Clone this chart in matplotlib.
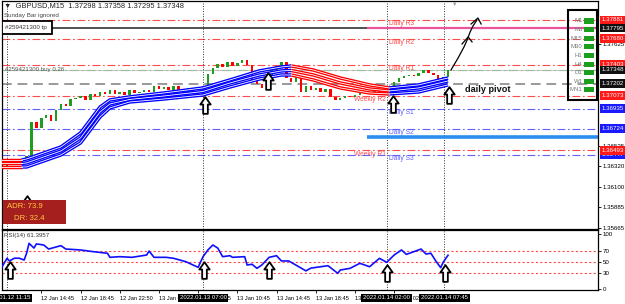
import numpy as np
import matplotlib
matplotlib.use("Agg")
import matplotlib.pyplot as plt
from matplotlib.patches import Rectangle
from matplotlib.path import Path
from matplotlib.transforms import blended_transform_factory as blend

plt.rcParams["font.family"] = ["Liberation Sans", "DejaVu Sans"]

# ---------------- data ----------------
# x axis is the M15 bar number, bar 0 = 2022.01.12 11:15
bar_idx = np.arange(-2, 182, 2)
closes = np.array([
    1.36326, 1.36358, 1.36336, 1.36368, 1.36389, 1.36432, 1.36794, 1.36730, 1.36837, 1.36869,
    1.36805, 1.36922, 1.36986, 1.36965, 1.37039, 1.37050, 1.37071, 1.37029, 1.37093, 1.37071,
    1.37114, 1.37093, 1.37135, 1.37093, 1.37114, 1.37082, 1.37135, 1.37103, 1.37114, 1.37135,
    1.37114, 1.37178, 1.37146, 1.37167, 1.37135, 1.37178, 1.37135, 1.37093, 1.37157, 1.37114,
    1.37082, 1.37178, 1.37306, 1.37370, 1.37412, 1.37380, 1.37434, 1.37391, 1.37423, 1.37455,
    1.37402, 1.37242, 1.37199, 1.37157, 1.37284, 1.37348, 1.37391, 1.37434, 1.37263, 1.37221,
    1.37284, 1.37114, 1.37178, 1.37135, 1.37157, 1.37114, 1.37146, 1.37061, 1.37029, 1.37050,
    1.37071, 1.37061, 1.37082, 1.37103, 1.37093, 1.37114, 1.37125, 1.37103, 1.37135, 1.37178,
    1.37221, 1.37263, 1.37284, 1.37295, 1.37284, 1.37316, 1.37348, 1.37316, 1.37295, 1.37210,
    1.37274, 1.37348,
])

# triple moving-average band
ma_idx = np.array([-3, 6, 8, 22, 30, 38, 42, 50, 64, 80, 91, 103, 112, 116, 125, 136, 148, 156, 168, 180])
ma_top = np.array([1.36389, 1.36389, 1.36400, 1.36528, 1.36677, 1.36954, 1.37029, 1.37061, 1.37103, 1.37157,
                   1.37242, 1.37338, 1.37380, 1.37391, 1.37348, 1.37263, 1.37189, 1.37157, 1.37189, 1.37263])
ma_mid = np.array([1.36352, 1.36352, 1.36358, 1.36485, 1.36624, 1.36901, 1.36986, 1.37034, 1.37071, 1.37119,
                   1.37210, 1.37295, 1.37338, 1.37343, 1.37295, 1.37210, 1.37146, 1.37125, 1.37157, 1.37231])
ma_low = np.array([1.36315, 1.36315, 1.36315, 1.36443, 1.36571, 1.36848, 1.36944, 1.37007, 1.37039, 1.37082,
                   1.37167, 1.37252, 1.37295, 1.37295, 1.37242, 1.37157, 1.37103, 1.37093, 1.37114, 1.37189])
trend_breaks = [6, 116, 156]          # red -> blue -> red -> blue

# pivot levels
level_prices = [1.37881, 1.37680, 1.37403, 1.37202, 1.37073, 1.36935, 1.36724, 1.36493, 1.36447]
level_names = ["Daily R3", "Daily R2", "Daily R1", "Daily Pivot", "Weekly R2",
               "Daily S1", "Daily S2", "Weekly R1", "Daily S3"]
tp_price = 1.37795
buy_price = 1.37348
zone_price = 1.36635
zone_start = 147

# right price scale
plain_ticks = [1.37625, 1.36535, 1.36320, 1.36100, 1.35885, 1.35665]
box_prices = [1.37881, 1.37795, 1.37680, 1.37403, 1.37348, 1.37202, 1.37073, 1.36935, 1.36724, 1.36447, 1.36493]
box_kinds = ["red", "black", "red", "red", "black", "black", "red", "blue", "blue", "blue", "red"]

# RSI(14)
rsi_idx = [-2, 0, 1, 3, 5, 7, 8, 9, 11, 12, 15, 17, 22, 24, 30, 35, 41, 42, 46, 51, 57, 58, 60, 65, 68,
           73, 78, 80, 82, 84, 86, 88, 91, 92, 97, 98, 100, 102, 104, 107, 110, 112, 115, 122, 124,
           128, 131, 135, 136, 140, 144, 148, 152, 155, 158, 161, 163, 166, 169, 171, 173, 175, 177, 178, 180]
rsi_val = [40.5, 55.8, 51, 56, 56, 52.7, 65, 83, 74.5, 82, 80, 72.7, 78.8, 72.7, 71, 68, 65, 57.6, 58.8,
           57.6, 61.8, 69, 57.6, 57.6, 55.8, 49.7, 39.4, 58.8, 71, 80, 74.5, 58.8, 60.6, 57.6, 58.8,
           43.6, 45, 37.6, 43.6, 57.6, 60.6, 51, 51, 33, 38, 40.5, 42.4, 28.5, 34.5, 37.6, 46.7, 40.5,
           55.8, 48.5, 61.8, 71, 63, 67.8, 72.7, 63.6, 65, 51, 38.8, 48.5, 61.4]
rsi_levels = [70, 50, 30]

# time scale
time_ticks = [14, 30, 46, 62, 78, 94, 110, 126, 142, 158]
time_labels = ["12 Jan 14:45", "12 Jan 18:45", "12 Jan 22:50", "13 Jan 02:45", "13 Jan 06:45",
               "13 Jan 10:45", "13 Jan 14:45", "13 Jan 18:45", "13 Jan 22:45", "14 Jan 02:45"]
cursor_idx = [0, 80, 155, 178.5]
cursor_labels = ["2022.01.12 11:15", "2022.01.13 07:00", "2022.01.14 02:00", "2022.01.14 07:45"]

# up-arrow signals
arrow_main_idx = [8.2, 80.8, 106.5, 157.5, 180.4]
arrow_main_price = [1.35921, 1.36975, 1.37231, 1.36986, 1.37082]
arrow_rsi_idx = [1.2, 80.4, 107, 155, 178.8]
arrow_rsi_val = [34.5, 34.5, 34.5, 29, 29]

# hand drawn projection
sketch_idx = [181.2, 184.1, 186.5, 187.8, 189.0, 190.2, 191.8]
sketch_price = [1.37348, 1.37476, 1.37593, 1.37668, 1.37753, 1.37817, 1.37881]
head1_idx = [185.7, 188.2, 189.8]
head1_price = [1.37625, 1.37700, 1.37647]
head2_idx = [189.4, 192.2, 193.5]
head2_price = [1.37838, 1.37902, 1.37838]

timeframes = ["M1", "M5", "M15", "M30", "H1", "H4", "D1", "W1", "MN1"]

# ---------------- styling ----------------
RED = "#ff0000"
BLUE = "#0000ff"
LRED = "#ff4a4a"
LBLUE = "#6060ff"
GREEN = "#1e9e1e"
FS = 4.4
W, H = 625, 304

fig = plt.figure(figsize=(W / 100, H / 100), dpi=100, facecolor="white")
ax = fig.add_axes([2 / W, 1 - 229 / H, 596 / W, 228 / H])
ax_rsi = fig.add_axes([2 / W, 1 - 290 / H, 596 / W, 60 / H])
xlim = (-2.04, 241.2)


def mx(px):
    return (px - 2) / 596


def my(py):
    return (229 - py) / 228


dashdot = (0, (7, 2.5, 1.5, 2.5))

# level lines
for p, name in zip(level_prices, level_names):
    if "Pivot" in name:
        ax.axhline(p, color="#9a9a9a", lw=1.4, ls=(0, (5, 3)), zorder=1)
        col = "#9a9a9a"
    elif "R" in name.split()[-1]:
        ax.axhline(p, color=LRED, lw=0.8, ls=dashdot, zorder=1)
        col = LRED
    else:
        ax.axhline(p, color=LBLUE, lw=0.8, ls=dashdot, zorder=1)
        col = LBLUE
    if name.startswith("Weekly"):
        ax.text(154.5, p - 0.00003, name, color=col, fontsize=4.8, ha="right", va="top", zorder=1)
    else:
        ax.text(155.8, p - 0.00004, name, color=col, fontsize=4.8, ha="left", va="top", zorder=1)

ax.axhline(tp_price, color="#222222", lw=1.1, zorder=1)
ax.hlines(tp_price, zone_start, xlim[1], color="#e8559b", lw=1.6, zorder=1.5)
ax.axhline(buy_price, color="#8cc88c", lw=0.9, ls=dashdot, zorder=1)
ax.axhline(buy_price, color="#b0b0b0", lw=0.5, zorder=1)
ax.hlines(zone_price, zone_start, xlim[1], color="#2a8ef0", lw=2.6, zorder=1.5)

# cursor lines
for xi in cursor_idx:
    for a in (ax, ax_rsi):
        a.axvline(xi, color="#333333", lw=0.7, ls=(0, (1, 1.6)), zorder=1)

# candles
opens = np.r_[closes[0], closes[:-1]]
up = closes >= opens
ax.bar(bar_idx, np.maximum(np.abs(closes - opens), 0.00008), bottom=np.minimum(opens, closes),
       width=1.0, color=np.where(up, GREEN, RED), lw=0, zorder=2)

# MA band
edges = [ma_idx[0]] + trend_breaks + [ma_idx[-1]]
for k in range(len(edges) - 1):
    c = RED if k % 2 == 0 else BLUE
    m = (ma_idx >= edges[k]) & (ma_idx <= edges[k + 1])
    for line in (ma_top, ma_mid, ma_low):
        ax.plot(ma_idx[m], line[m], color=c, lw=2.5, solid_capstyle="butt", zorder=3)
        ax.plot(ma_idx[m], line[m], color="white", lw=0.6, zorder=3.1)

# arrows
arrow_path = Path([(0, 1), (-0.62, 0.12), (-0.28, 0.12), (-0.28, -1), (0.28, -1), (0.28, 0.12),
                   (0.62, 0.12), (0, 1)],
                  [Path.MOVETO] + [Path.LINETO] * 6 + [Path.CLOSEPOLY])
ax.plot(arrow_main_idx, arrow_main_price, ls="none", marker=arrow_path, ms=12, mfc="white",
        mec="black", mew=1.3, zorder=6)
ax_rsi.plot(arrow_rsi_idx, arrow_rsi_val, ls="none", marker=arrow_path, ms=12, mfc="white",
            mec="black", mew=1.3, zorder=6)

# hand drawn sketch
for xs, ys in ((sketch_idx, sketch_price), (head1_idx, head1_price), (head2_idx, head2_price)):
    ax.plot(xs, ys, color="black", lw=0.9, zorder=6)

# overlays / texts
ax.text(mx(4), my(6), "\u25bc  GBPUSD,M15  1.37298 1.37358 1.37295 1.37348", transform=ax.transAxes,
        fontsize=5.4, va="center", ha="left", color="#222222")
ax.text(mx(4), my(15.5), "Sunday Bar ignored", transform=ax.transAxes, fontsize=4.5, va="center",
        color="#444444")
ax.add_patch(Rectangle((mx(2), my(34)), mx(52) - mx(2), my(21) - my(34), transform=ax.transAxes,
                       fc="white", ec="black", lw=1.3, zorder=5))
ax.text(mx(5), my(27), "#259421300 tp", transform=ax.transAxes, fontsize=4.5, va="center",
        color="#333333", zorder=6)
ax.text(mx(5), my(69), "#259421300 buy 0.26", transform=ax.transAxes, fontsize=4.4, va="center",
        color="#555555", zorder=6)
ax.text(mx(465), my(89), "daily pivot", transform=ax.transAxes, fontsize=6.6, fontweight="bold",
        va="center", ha="left", color="#111111", zorder=6)
ax.text(mx(455), my(4), "\u25bc", transform=ax.transAxes, fontsize=4, ha="center", va="center",
        color="#999999")

# ADR box
ax.add_patch(Rectangle((mx(3), my(224)), mx(66) - mx(3), my(200) - my(224), transform=ax.transAxes,
                       fc="#a61f1f", ec="none", zorder=7))
ax.text(mx(7), my(207), "ADR: 73.9", transform=ax.transAxes, fontsize=5.6, color="#ffc83d",
        va="center", zorder=8)
ax.text(mx(14), my(218), "DR: 32.4", transform=ax.transAxes, fontsize=5.6, color="#ffc83d",
        va="center", zorder=8)

# timeframe panel
ax.add_patch(Rectangle((mx(568), my(100)), mx(597) - mx(568), my(10) - my(100), transform=ax.transAxes,
                       fill=False, ec="black", lw=1.5, zorder=7))
for i, tf in enumerate(timeframes):
    yy = 21 + i * 8.6
    ax.text(mx(582.5), my(yy), tf, transform=ax.transAxes, fontsize=4.3, ha="right", va="center",
            color="#777777", zorder=8)
    ax.add_patch(Rectangle((mx(584), my(yy + 2.5)), mx(594) - mx(584), my(yy - 2.5) - my(yy + 2.5),
                           transform=ax.transAxes, fc=GREEN, ec="none", zorder=8))

# main axes scales
ax.set_xlim(*xlim)
ax.set_ylim(1.35654, 1.38083)
ax.set_xticks([])
ax.yaxis.tick_right()
ax.set_yticks(plain_ticks)
ax.set_yticklabels([f"{p:.5f}" for p in plain_ticks])
ax.tick_params(axis="y", labelsize=FS, length=2, pad=1.5, width=0.6)
bt = blend(ax.transAxes, ax.transData)
box_colors = {"red": "#ff1a1a", "black": "#111111", "blue": "#1a1aff"}
for p, kd in zip(box_prices, box_kinds):
    ax.text(1 + 3.5 / 596, p, f"{p:.5f}", transform=bt, fontsize=FS, color="white", ha="left",
            va="center", bbox=dict(boxstyle="square,pad=0.3", fc=box_colors[kd], ec="none"), zorder=9)

# RSI panel
ax_rsi.plot(rsi_idx, rsi_val, color="#1010ff", lw=1.2, zorder=4)
for lv in rsi_levels:
    ax_rsi.axhline(lv, color="#ff4a4a", lw=0.8, ls=(0, (2, 2)), zorder=1)
ax_rsi.text(mx(4), 0.9, "RSI(14) 61.3957", transform=ax_rsi.transAxes, fontsize=4.4, va="center",
            color="#333333")
ax_rsi.set_xlim(*xlim)
ax_rsi.set_ylim(-1.8, 107.3)
ax_rsi.yaxis.tick_right()
ax_rsi.set_yticks([0, 30, 50, 70, 100])
ax_rsi.tick_params(axis="y", labelsize=FS, length=2, pad=1.5, width=0.6)
ax_rsi.set_xticks(time_ticks)
ax_rsi.set_xticklabels(time_labels, ha="left")
ax_rsi.tick_params(axis="x", labelsize=4.1, length=2, pad=2.2, width=0.6)
tb = blend(ax_rsi.transData, ax_rsi.transAxes)
for xi, lab in zip(cursor_idx, cursor_labels):
    ax_rsi.text(xi, -0.13, lab, transform=tb, fontsize=4.3, color="white", ha="center", va="center",
                bbox=dict(boxstyle="square,pad=0.3", fc="black", ec="none"), zorder=9)

for a in (ax, ax_rsi):
    for s in a.spines.values():
        s.set_linewidth(0.9)
        s.set_color("black")

fig.savefig("out.png", dpi=100, facecolor="white")
